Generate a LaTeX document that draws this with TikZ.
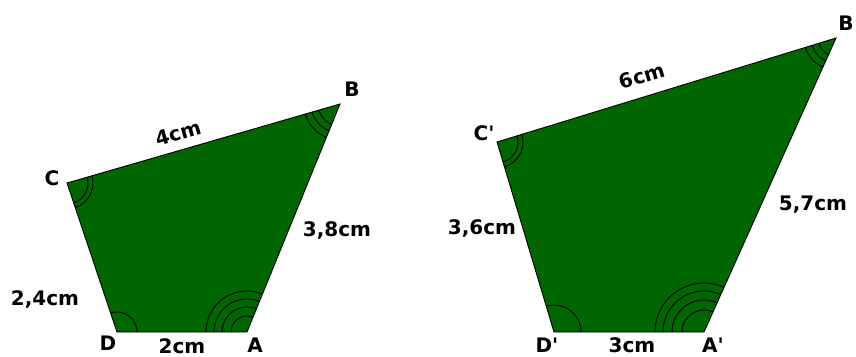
\documentclass[tikz,border=0pt]{standalone}
\usepackage{fontspec}
\setmainfont{DejaVu Sans}
\usepackage{xcolor}
\usepackage{tikz}

\definecolor{quadgreen}{RGB}{0,102,0}

\begin{document}
\begin{tikzpicture}[x=1pt, y=-1pt, font=\bfseries\fontsize{20}{20}\selectfont,
   quad/.style={fill=quadgreen},
   side/.style={draw=black, line width=0.9pt},
   angmark/.style={draw=black, line width=0.9pt},
   lbl/.style={inner sep=0pt}]
   \useasboundingbox (0,0) rectangle (856,356);

   % small quadrilateral ABCD
   \coordinate (A) at (247,332);
   \coordinate (B) at (340,104);
   \coordinate (C) at (67,183);
   \coordinate (D) at (117,332);

   % large quadrilateral A'B'C'D'
   \coordinate (A2) at (704,332);
   \coordinate (B2) at (836,38);
   \coordinate (C2) at (497,142);
   \coordinate (D2) at (554,332);

   \fill[quad] (A) -- (B) -- (C) -- (D) -- cycle;
   \fill[quad] (A2) -- (B2) -- (C2) -- (D2) -- cycle;

   % angle marks
   \begin{scope}
      \clip (A) -- (B) -- (C) -- (D) -- cycle;
      \foreach \r in {16,25,33,41} \draw[angmark] (A) circle (\r pt);
      \foreach \r in {22,29,36} \draw[angmark] (B) circle (\r pt);
      \foreach \r in {21,26} \draw[angmark] (C) circle (\r pt);
      \draw[angmark] (D) circle (20pt);
   \end{scope}
   \begin{scope}
      \clip (A2) -- (B2) -- (C2) -- (D2) -- cycle;
      \foreach \r in {22,32,41,49} \draw[angmark] (A2) circle (\r pt);
      \foreach \r in {18,25,32} \draw[angmark] (B2) circle (\r pt);
      \foreach \r in {21,26} \draw[angmark] (C2) circle (\r pt);
      \draw[angmark] (D2) circle (27pt);
   \end{scope}

   \draw[side] (A) -- (B) -- (C) -- (D) -- cycle;
   \draw[side] (A2) -- (B2) -- (C2) -- (D2) -- cycle;

   % vertex names
   \node[lbl] (nA) at (255,345) {A};
   \node[lbl] (nB) at (352,89) {B};
   \node[lbl] (nC) at (52,178) {C};
   \node[lbl] (nD) at (108,343) {D};
   \node[lbl] (nA2) at (713,345) {A\textquotesingle};
   \node[lbl] (nB2) at (846,23) {B};
   \node[lbl] (nC2) at (484,133) {C\textquotesingle};
   \node[lbl] (nD2) at (547,345) {D\textquotesingle};

   % side lengths
   \node[lbl] (lDA) at (182,346) {2cm};
   \node[lbl, rotate=16] (lCB) at (178,133) {4cm};
   \node[lbl] (lAB) at (337,230) {3,8cm};
   \node[lbl] (lCD) at (45,299) {2,4cm};
   \node[lbl] (lDA2) at (632,345) {3cm};
   \node[lbl, rotate=17] (lCB2) at (642,76) {6cm};
   \node[lbl] (lAB2) at (813,205) {5,7cm};
   \node[lbl] (lCD2) at (482,228) {3,6cm};
\end{tikzpicture}
\end{document}
